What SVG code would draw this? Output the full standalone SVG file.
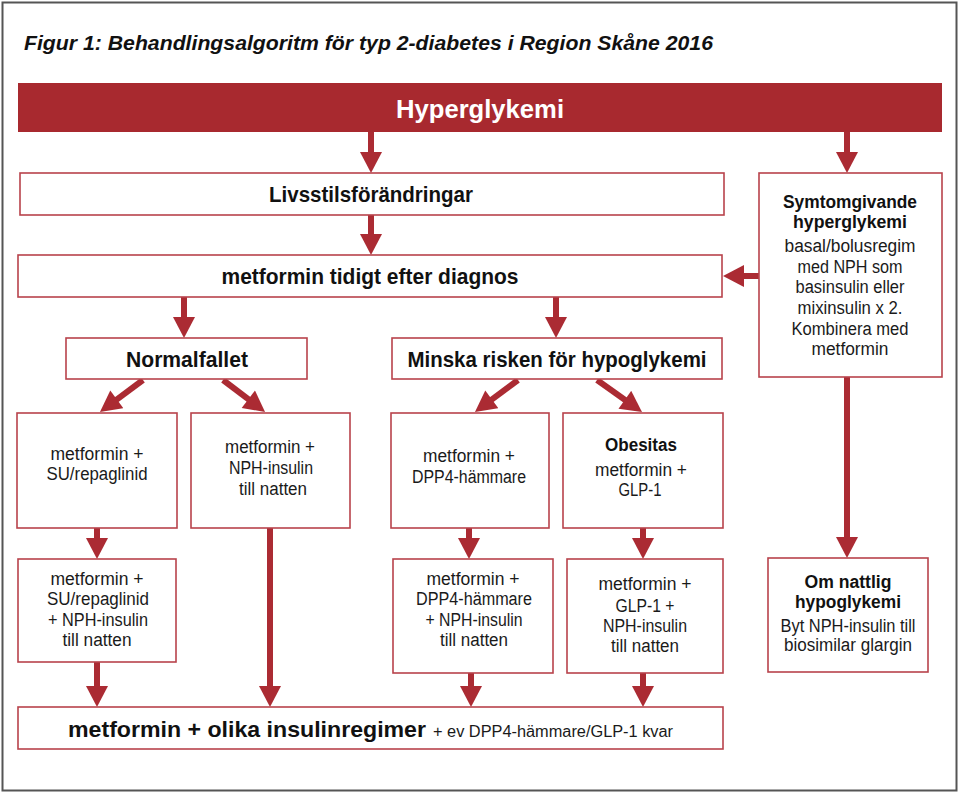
<svg xmlns="http://www.w3.org/2000/svg" width="960" height="794" viewBox="0 0 960 794">
<defs>
<style>
.box{fill:#fff;stroke:#b8434b;stroke-width:1.6}
.t{font-family:"Liberation Sans",Arial,sans-serif;font-size:18px;fill:#1a1a1a;text-anchor:middle}
.b{font-family:"Liberation Sans",Arial,sans-serif;font-weight:bold;fill:#111;text-anchor:middle}
.c{stroke:#ab2b33;stroke-width:6;fill:none}
</style>
<marker id="ah" markerUnits="userSpaceOnUse" markerWidth="22" markerHeight="22" viewBox="0 0 21 22" refX="9" refY="11" orient="auto">
<path d="M0,0 L21,11 L0,22 z" fill="#ab2b33"/>
</marker>
</defs>
<rect x="0" y="0" width="960" height="794" fill="#fff"/>
<rect x="2.5" y="2.5" width="954" height="788" fill="none" stroke="#555" stroke-width="2"/>
<text x="24" y="50" font-family="Liberation Sans, Arial, sans-serif" font-weight="bold" font-style="italic" font-size="21" fill="#111" textLength="689" lengthAdjust="spacingAndGlyphs">Figur 1: Behandlingsalgoritm för typ 2-diabetes i Region Skåne 2016</text>

<g id="connectors">
<line class="c" x1="371" y1="132" x2="371" y2="161" marker-end="url(#ah)"/>
<line class="c" x1="847" y1="132" x2="847" y2="161" marker-end="url(#ah)"/>
<line class="c" x1="371" y1="215" x2="371" y2="243" marker-end="url(#ah)"/>
<line class="c" x1="759" y1="276" x2="735" y2="276" marker-end="url(#ah)"/>
<line class="c" x1="184" y1="297" x2="184" y2="326" marker-end="url(#ah)"/>
<line class="c" x1="556" y1="297" x2="556" y2="326" marker-end="url(#ah)"/>
<line class="c" x1="143" y1="380" x2="109.6" y2="404.8" marker-end="url(#ah)"/>
<line class="c" x1="223" y1="380" x2="255.5" y2="404.7" marker-end="url(#ah)"/>
<line class="c" x1="518" y1="380" x2="484.6" y2="404.8" marker-end="url(#ah)"/>
<line class="c" x1="597" y1="380" x2="632.2" y2="405" marker-end="url(#ah)"/>
<line class="c" x1="97" y1="528" x2="97" y2="547" marker-end="url(#ah)"/>
<line class="c" x1="469" y1="528" x2="469" y2="547" marker-end="url(#ah)"/>
<line class="c" x1="643" y1="528" x2="643" y2="547" marker-end="url(#ah)"/>
<line class="c" x1="847" y1="377" x2="847" y2="546" marker-end="url(#ah)"/>
<line class="c" x1="97" y1="662" x2="97" y2="695" marker-end="url(#ah)"/>
<line class="c" x1="270" y1="528" x2="270" y2="695" marker-end="url(#ah)"/>
<line class="c" x1="471" y1="673" x2="471" y2="695" marker-end="url(#ah)"/>
<line class="c" x1="643" y1="673" x2="643" y2="695" marker-end="url(#ah)"/>
</g>

<g id="hyperglykemi">
<rect x="18" y="83" width="924" height="49" fill="#a8292f"/>
<text x="480" y="118" font-family="Liberation Sans, Arial, sans-serif" font-weight="bold" font-size="26" fill="#fff" text-anchor="middle" textLength="168" lengthAdjust="spacingAndGlyphs">Hyperglykemi</text>
</g>

<g id="livsstil">
<rect class="box" x="20" y="173" width="704" height="42"/>
<text class="b" x="371" y="202" font-size="22" textLength="204" lengthAdjust="spacingAndGlyphs">Livsstilsförändringar</text>
</g>

<g id="symtom">
<rect class="box" x="759" y="173" width="183" height="204"/>
<text class="b" x="850" y="208" font-size="18" textLength="134" lengthAdjust="spacingAndGlyphs">Symtomgivande</text>
<text class="b" x="850" y="228" font-size="18" textLength="114" lengthAdjust="spacingAndGlyphs">hyperglykemi</text>
<text class="t" x="850" y="252" textLength="131" lengthAdjust="spacingAndGlyphs">basal/bolusregim</text>
<text class="t" x="850" y="273" textLength="105" lengthAdjust="spacingAndGlyphs">med NPH som</text>
<text class="t" x="850" y="293" textLength="109" lengthAdjust="spacingAndGlyphs">basinsulin eller</text>
<text class="t" x="850" y="314" textLength="105" lengthAdjust="spacingAndGlyphs">mixinsulin x 2.</text>
<text class="t" x="850" y="335" textLength="117" lengthAdjust="spacingAndGlyphs">Kombinera med</text>
<text class="t" x="850" y="355" textLength="77" lengthAdjust="spacingAndGlyphs">metformin</text>
</g>

<g id="metformin-tidigt">
<rect class="box" x="18" y="255" width="704" height="42"/>
<text class="b" x="370" y="284" font-size="22" textLength="297" lengthAdjust="spacingAndGlyphs">metformin tidigt efter diagnos</text>
</g>

<g id="normalfallet">
<rect class="box" x="66" y="338" width="241" height="41"/>
<text class="b" x="187" y="367" font-size="22" textLength="122" lengthAdjust="spacingAndGlyphs">Normalfallet</text>
</g>

<g id="minska">
<rect class="box" x="392" y="338" width="330" height="41"/>
<text class="b" x="557" y="367" font-size="22" textLength="299" lengthAdjust="spacingAndGlyphs">Minska risken för hypoglykemi</text>
</g>

<g id="su">
<rect class="box" x="17" y="413" width="160" height="115"/>
<text class="t" x="97" y="460" textLength="93" lengthAdjust="spacingAndGlyphs">metformin +</text>
<text class="t" x="97" y="480" textLength="101" lengthAdjust="spacingAndGlyphs">SU/repaglinid</text>
</g>

<g id="nph">
<rect class="box" x="191" y="413" width="159" height="115"/>
<text class="t" x="270" y="453" textLength="90" lengthAdjust="spacingAndGlyphs">metformin +</text>
<text class="t" x="271" y="474" textLength="84" lengthAdjust="spacingAndGlyphs">NPH-insulin</text>
<text class="t" x="273" y="495" textLength="68" lengthAdjust="spacingAndGlyphs">till natten</text>
</g>

<g id="dpp4">
<rect class="box" x="391" y="413" width="158" height="115"/>
<text class="t" x="469" y="462" textLength="92" lengthAdjust="spacingAndGlyphs">metformin +</text>
<text class="t" x="469" y="483" textLength="114" lengthAdjust="spacingAndGlyphs">DPP4-hämmare</text>
</g>

<g id="obesitas">
<rect class="box" x="563" y="413" width="160" height="115"/>
<text class="b" x="641" y="451" font-size="18" textLength="72" lengthAdjust="spacingAndGlyphs">Obesitas</text>
<text class="t" x="641" y="476" textLength="92" lengthAdjust="spacingAndGlyphs">metformin +</text>
<text class="t" x="640" y="496" textLength="43" lengthAdjust="spacingAndGlyphs">GLP-1</text>
</g>

<g id="su-nph">
<rect class="box" x="18" y="559" width="158" height="103"/>
<text class="t" x="97" y="585" textLength="93" lengthAdjust="spacingAndGlyphs">metformin +</text>
<text class="t" x="98" y="605" textLength="102" lengthAdjust="spacingAndGlyphs">SU/repaglinid</text>
<text class="t" x="98" y="626" textLength="100" lengthAdjust="spacingAndGlyphs">+ NPH-insulin</text>
<text class="t" x="97" y="646" textLength="69" lengthAdjust="spacingAndGlyphs">till natten</text>
</g>

<g id="dpp4-nph">
<rect class="box" x="393" y="559" width="160" height="114"/>
<text class="t" x="473" y="585" textLength="93" lengthAdjust="spacingAndGlyphs">metformin +</text>
<text class="t" x="474" y="605" textLength="116" lengthAdjust="spacingAndGlyphs">DPP4-hämmare</text>
<text class="t" x="474" y="626" textLength="97" lengthAdjust="spacingAndGlyphs">+ NPH-insulin</text>
<text class="t" x="474" y="646" textLength="68" lengthAdjust="spacingAndGlyphs">till natten</text>
</g>

<g id="glp1-nph">
<rect class="box" x="567" y="559" width="156" height="114"/>
<text class="t" x="645" y="590" textLength="93" lengthAdjust="spacingAndGlyphs">metformin +</text>
<text class="t" x="645" y="612" textLength="59" lengthAdjust="spacingAndGlyphs">GLP-1 +</text>
<text class="t" x="645" y="632" textLength="84" lengthAdjust="spacingAndGlyphs">NPH-insulin</text>
<text class="t" x="645" y="652" textLength="68" lengthAdjust="spacingAndGlyphs">till natten</text>
</g>

<g id="nattlig">
<rect class="box" x="768" y="558" width="160" height="114"/>
<text class="b" x="848" y="588" font-size="18" textLength="87" lengthAdjust="spacingAndGlyphs">Om nattlig</text>
<text class="b" x="848" y="608" font-size="18" textLength="106" lengthAdjust="spacingAndGlyphs">hypoglykemi</text>
<text class="t" x="848" y="632" textLength="135" lengthAdjust="spacingAndGlyphs">Byt NPH-insulin till</text>
<text class="t" x="848" y="651" textLength="128" lengthAdjust="spacingAndGlyphs">biosimilar glargin</text>
</g>

<g id="insulinregimer">
<rect class="box" x="18" y="707" width="705" height="42"/>
<text x="68" y="737" font-family="Liberation Sans, Arial, sans-serif" font-weight="bold" font-size="22" fill="#111" textLength="358" lengthAdjust="spacingAndGlyphs">metformin + olika insulinregimer</text>
<text x="433" y="737" font-family="Liberation Sans, Arial, sans-serif" font-size="16" fill="#1a1a1a" textLength="240" lengthAdjust="spacingAndGlyphs">+ ev DPP4-hämmare/GLP-1 kvar</text>
</g>
</svg>
